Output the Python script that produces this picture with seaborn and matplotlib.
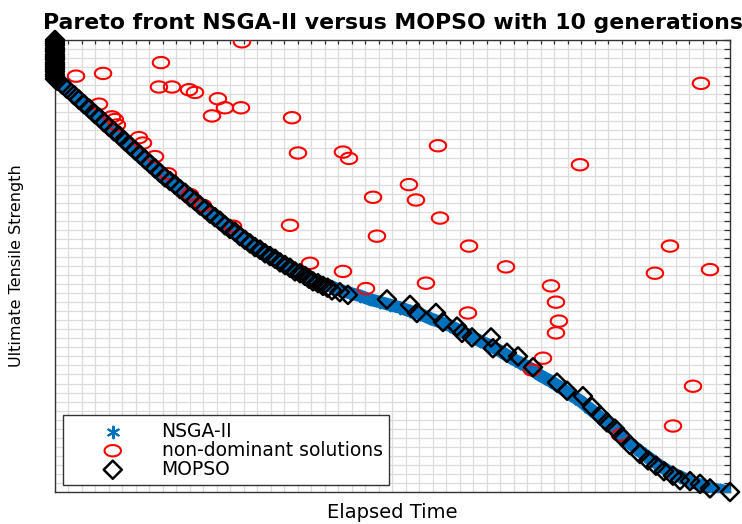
import numpy as np
import seaborn as sns
import matplotlib.pyplot as plt

# Pareto front values (elapsed time vs UTS, 50 grid units each way)
nsga_time = [0, 0, 0, 0, 0.07, 0.37, 1.11, 1.85, 2.59, 3.33, 4.07, 4.81, 5.56, 6.30, 7.04,
             7.78, 8.52, 9.26, 10.0, 10.74, 11.48, 12.22, 12.96, 13.70, 14.44, 15.19, 15.93,
             16.67, 17.41, 18.15, 18.89, 19.63, 20.37, 21.11, 21.85, 22.59, 23.33, 24.07, 24.81,
             25.56, 26.30, 27.04, 27.78, 28.52, 29.26, 30.0, 30.74, 31.48, 32.22, 32.96, 33.70,
             34.44, 35.19, 35.93, 36.67, 37.41, 38.15, 38.89, 39.63, 40.37, 41.11, 41.85, 42.59,
             43.33, 44.07, 44.81, 45.56, 46.30, 47.04, 47.78, 48.52, 49.26, 49.85]
nsga_uts = [50.0, 48.9, 47.8, 46.7, 46.0, 45.4, 44.2, 43.3, 42.3, 41.3, 40.3, 39.3, 38.3, 37.3,
            36.4, 35.4, 34.4, 33.5, 32.6, 31.7, 30.9, 30.0, 29.1, 28.3, 27.5, 26.8, 26.1, 25.4,
            24.8, 24.2, 23.7, 23.2, 22.8, 22.3, 22.0, 21.7, 21.3, 21.0, 20.7, 20.4, 20.0, 19.7,
            19.2, 18.8, 18.4, 17.8, 17.3, 16.7, 16.2, 15.6, 14.9, 14.3, 13.7, 12.9, 12.3, 11.6,
            10.8, 10.1, 9.2, 8.3, 7.3, 6.4, 5.4, 4.5, 3.7, 2.9, 2.2, 1.7, 1.2, 0.8, 0.4, 0.2, 0.1]

# MOPSO: dense cluster at top left, packed band down to ~22, then sparser
mopso_time = [0, 0, 0, 0, 0, 0, 0, 0, 0, 0, 0, 0, 0, 0, 0, 0, 0, 0, 0, 0, 0.15,
              0.52, 0.89, 1.41, 1.78, 2.15, 2.55, 2.96, 3.30, 3.63, 4.0, 4.37, 4.78,
              5.19, 5.56, 5.93, 6.30, 6.67, 7.04, 7.41, 7.78, 8.15, 8.52, 8.89, 9.26,
              9.63, 10.0, 10.37, 10.74, 11.11, 11.48, 11.85, 12.22, 12.59, 12.96, 13.33,
              13.70, 14.07, 14.44, 14.81, 15.19, 15.56, 15.93, 16.30, 16.67, 17.04, 17.41,
              17.78, 18.15, 18.52, 18.81, 19.11, 19.48, 19.85, 20.19, 20.52, 21.1, 21.70,
              24.59, 26.30, 26.81, 28.22, 28.74, 29.78, 30.15, 30.89, 32.30, 32.44,
              33.48, 34.30, 35.41, 37.19, 37.93, 39.11, 39.78, 40.37, 40.89, 41.48,
              42.0, 42.59, 43.33, 43.93, 44.52, 45.11, 45.78, 46.30, 47.04, 47.78,
              48.52, 50.0]
mopso_uts = [50.0, 49.8, 49.6, 49.4, 49.1, 48.9, 48.7, 48.4, 48.2, 48.0, 47.8, 47.5, 47.3,
             47.1, 46.9, 46.7, 46.5, 46.2, 46.0, 45.7, 45.5,
             45.1, 44.6, 43.9, 43.4, 42.9, 42.4, 41.8, 41.4, 40.9, 40.4, 39.9, 39.4,
             38.8, 38.3, 37.8, 37.3, 36.8, 36.3, 35.8, 35.3, 34.8, 34.4, 34.0, 33.5,
             33.1, 32.6, 32.2, 31.7, 31.3, 30.8, 30.4, 30.0, 29.5, 29.1, 28.8,
             28.3, 27.9, 27.5, 27.1, 26.8, 26.4, 26.1, 25.8, 25.4, 25.1, 24.8,
             24.4, 24.2, 23.9, 23.6, 23.3, 23.1, 22.8, 22.6, 22.3, 22.1, 21.8,
             21.3, 20.7, 19.8, 19.8, 18.8, 18.3, 17.6, 17.1, 17.1, 15.9,
             15.4, 15.0, 13.8, 12.1, 11.2, 10.6, 9.4, 8.5, 7.7, 7.0,
             6.1, 5.2, 4.2, 3.5, 2.9, 2.3, 1.8, 1.3, 1.2, 0.9,
             0.4, 0.0]

nd_time = [13.85, 1.56, 3.56, 7.85, 7.70, 8.67, 9.93, 10.37, 12.07, 12.59,
           13.78, 11.63, 17.56, 18.0, 21.33, 21.78, 3.26, 4.22, 4.44, 4.59,
           6.22, 6.52, 7.41, 8.37, 10.0, 10.96, 13.19, 17.41, 23.56, 26.22,
           26.74, 28.37, 28.52, 23.85, 30.67, 38.89, 47.85, 33.41, 21.33, 18.89,
           27.48, 23.04, 30.59, 36.74, 37.11, 37.33, 37.11, 36.15, 35.33, 41.85,
           45.56, 44.44, 48.52, 47.26, 45.78]
nd_uts = [49.8, 46.0, 46.3, 47.5, 44.8, 44.8, 44.5, 44.2, 43.5, 42.5,
          42.5, 41.6, 41.4, 37.5, 37.6, 36.9, 42.9, 41.5, 41.2, 40.6,
          39.2, 38.6, 37.1, 35.2, 32.9, 31.7, 29.4, 29.5, 32.6, 34.0,
          32.3, 38.3, 30.3, 28.3, 27.2, 36.2, 45.2, 24.9, 24.4, 25.3,
          23.1, 22.5, 19.8, 22.8, 21.0, 18.9, 17.6, 14.8, 13.5, 6.3,
          27.2, 24.2, 24.6, 11.7, 7.3]

sns.set_theme(style='white')
plt.rcParams['font.family'] = ['DejaVu Sans']
plt.rcParams['text.color'] = 'black'
plt.rcParams['axes.labelcolor'] = 'black'

blue = '#0072BD'
# the source picture is stretched sideways, so the circles come out as ellipses
t = np.linspace(0, 2 * np.pi, 60)
ellipse = list(zip(1.45 * np.cos(t), np.sin(t)))

fig = plt.figure(figsize=(7.42, 5.24), dpi=100)
ax = fig.add_axes([0.0741, 0.0611, 0.9097, 0.8626])

# NSGA-II points are so dense they read as a solid band
ax.plot(nsga_time, nsga_uts, color=blue, linewidth=9, solid_capstyle='round',
        solid_joinstyle='round', zorder=2)
sns.scatterplot(x=nsga_time, y=nsga_uts, marker=(6, 2, 0), s=70, color=blue,
                linewidth=1.5, label='NSGA-II', ax=ax, zorder=3)
sns.scatterplot(x=nd_time, y=nd_uts, marker=ellipse, s=140, color='red',
                facecolor='none', edgecolor='red', linewidth=1.5,
                label='non-dominant solutions', ax=ax, zorder=4)
sns.scatterplot(x=mopso_time, y=mopso_uts, marker='D', s=85, color='black',
                facecolor='none', edgecolor='black', linewidth=1.8,
                label='MOPSO', ax=ax, zorder=5, clip_on=False)

ax.set_xlim(0, 50)
ax.set_ylim(0, 50)
ax.set_xticks(np.arange(0, 51))
ax.set_yticks(np.arange(0, 51))
ax.tick_params(axis='x', direction='in', length=3, width=0.9, top=True,
               labelbottom=False, color='#333333')
ax.tick_params(axis='y', direction='in', length=4, width=0.9, right=True,
               labelleft=False, color='#333333')
ax.grid(True, color='#dcdcdc', linewidth=0.9)
ax.set_axisbelow(True)
for sp in ax.spines.values():
    sp.set_color('#333333')
    sp.set_linewidth(1.0)

ax.set_title('Pareto front NSGA-II versus MOPSO with 10 generations',
             fontsize=15.8, fontweight='bold', pad=8, color='black')
ax.set_xlabel('Elapsed Time', fontsize=14, labelpad=8)
ax.set_ylabel('Ultimate Tensile Strength', fontsize=11.5, labelpad=22)

leg = ax.legend(loc='lower left', bbox_to_anchor=(0.012, 0.015), borderaxespad=0,
                fontsize=13.5, frameon=True, fancybox=False, framealpha=1,
                edgecolor='#333333', borderpad=0.35, handlelength=4.6,
                handletextpad=0.3, labelspacing=0.0)
leg.get_frame().set_linewidth(1.0)

fig.savefig('out.png', dpi=100)
